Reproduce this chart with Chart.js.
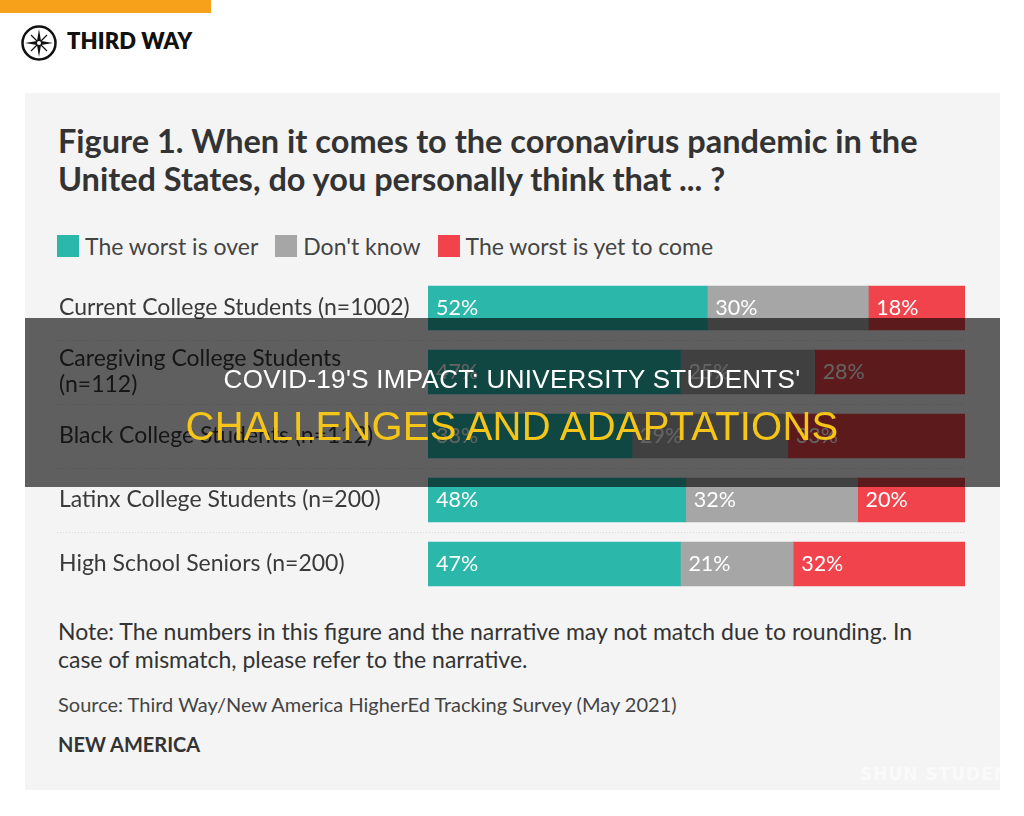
<!DOCTYPE html>
<html>
<head>
<meta charset="utf-8">
<script src="https://cdn.jsdelivr.net/npm/chart.js@4"></script>
<style>
  body { margin: 0; width: 1024px; height: 816px; background: #fff; position: relative; overflow: hidden; font-family: Lato, "Open Sans", sans-serif; }
  #topbar { position: absolute; left: 0; top: 0; width: 211px; height: 13px; background: #f7a11a; }
  #logo { position: absolute; left: 20px; top: 24px; }
  #brand { position: absolute; left: 67px; top: 27px; font: 800 22px Lato, sans-serif; color: #111; letter-spacing: 0.1px; }
  #panel { position: absolute; left: 25px; top: 93px; width: 975px; height: 697px; background: #f4f4f4; }
  #title { position: absolute; left: 58px; top: 122px; font: 700 32.5px Lato, sans-serif; color: #333; line-height: 38px; }
  #legend { position: absolute; left: 57px; top: 232px; display: flex; font: 23px Lato, sans-serif; color: #444; }
  #legend span.item { display: flex; align-items: center; margin-right: 17px; }
  #legend span.box { width: 22px; height: 22px; margin-right: 6px; display: inline-block; }
  #wrap { position: absolute; left: 40px; top: 260px; width: 940px; height: 352px; }
  #note { position: absolute; left: 58px; top: 617px; font: 23px Lato, sans-serif; color: #333; line-height: 28px; }
  #source { position: absolute; left: 58px; top: 692px; font: 20px Lato, sans-serif; color: #444; }
  #org { position: absolute; left: 58px; top: 732px; font: 700 20px Lato, sans-serif; color: #333; }
  #shade { position: absolute; left: 25px; top: 318px; width: 975px; height: 169px; background: rgba(0,0,0,0.61); }
  #head1 { position: absolute; left: 0; width: 1024px; top: 364px; text-align: center; font: 26px "Liberation Sans", Arial, sans-serif; color: #fff; letter-spacing: 0.3px; }
  #head2 { position: absolute; left: 0; width: 1024px; top: 404px; text-align: center; font: 40px "Liberation Sans", Arial, sans-serif; color: #f5c518; letter-spacing: 0.2px; }
  #mark { position: absolute; left: 860px; top: 764px; font: 700 17px "DejaVu Sans", sans-serif; color: rgba(255,255,255,0.6); letter-spacing: 1px; }
</style>
</head>
<body>
<div id="topbar"></div>
<svg id="logo" width="38" height="38" viewBox="0 0 38 38">
  <circle cx="19" cy="19" r="16.5" fill="none" stroke="#111" stroke-width="2.5"/>
  <path d="M19 5 L21 17 L33 19 L21 21 L19 33 L17 21 L5 19 L17 17 Z" fill="#111"/>
  <path d="M19 19 L27 11 M19 19 L11 11 M19 19 L27 27 M19 19 L11 27" stroke="#111" stroke-width="1.2"/>
  <circle cx="19" cy="19" r="2" fill="#fff"/>
</svg>
<div id="brand">THIRD WAY</div>
<div id="panel"></div>
<div id="title">Figure 1. When it comes to the coronavirus pandemic in the<br>United States, do you personally think that ... ?</div>
<div id="legend"></div>
<div id="wrap"><canvas id="chart"></canvas></div>
<div id="note">Note: The numbers in this figure and the narrative may not match due to rounding. In<br>case of mismatch, please refer to the narrative.</div>
<div id="source">Source: Third Way/New America HigherEd Tracking Survey (May 2021)</div>
<div id="org">NEW AMERICA</div>
<div id="mark">SHUN STUDENT</div>
<div id="shade"></div>
<div id="head1">COVID-19'S IMPACT: UNIVERSITY STUDENTS'</div>
<div id="head2">CHALLENGES AND ADAPTATIONS</div>
<script>
// Data
const groups = [
    "Current College Students (n=1002)",
    ["Caregiving College Students", "(n=112)"],
    "Black College Students (n=112)",
    "Latinx College Students (n=200)",
    "High School Seniors (n=200)"
];
const seriesNames = ["The worst is over", "Don't know", "The worst is yet to come"];
const worstOver = [52, 47, 38, 48, 47];
const dontKnow = [30, 25, 29, 32, 21];
const yetToCome = [18, 28, 33, 20, 32];
const colors = ["#2bb8aa", "#a6a6a6", "#f0434b"];

// HTML legend
const legend = document.getElementById('legend');
seriesNames.forEach((name, i) => {
    legend.innerHTML += '<span class="item"><span class="box" style="background:' + colors[i] + '"></span>' + name + '</span>';
});

// percent labels inside the bars
const pctLabels = {
    id: 'pctLabels',
    afterDatasetsDraw(chart) {
        const ctx = chart.ctx;
        ctx.save();
        ctx.font = '21.5px Lato, sans-serif';
        ctx.fillStyle = '#fff';
        ctx.textBaseline = 'middle';
        chart.data.datasets.forEach((ds, di) => {
            chart.getDatasetMeta(di).data.forEach((bar, i) => {
                const left = Math.min(bar.x, bar.base);
                ctx.fillText(ds.data[i] + '%', left + 8, bar.y);
            });
        });
        ctx.restore();
    }
};

// dotted separators between rows
const separators = {
    id: 'separators',
    beforeDatasetsDraw(chart) {
        const ctx = chart.ctx;
        const y = chart.scales.y;
        ctx.save();
        ctx.strokeStyle = '#d9d9d9';
        ctx.lineWidth = 1;
        ctx.setLineDash([1, 2]);
        for (let i = 0; i < groups.length - 1; i++) {
            const yy = Math.round((y.getPixelForValue(i) + y.getPixelForValue(i + 1)) / 2) + 0.5;
            ctx.beginPath();
            ctx.moveTo(y.left - 2, yy);
            ctx.lineTo(chart.chartArea.right, yy);
            ctx.stroke();
        }
        ctx.restore();
    }
};

new Chart(document.getElementById('chart'), {
    type: 'bar',
    data: {
        labels: groups,
        datasets: [
            { label: seriesNames[0], data: worstOver, backgroundColor: colors[0] },
            { label: seriesNames[1], data: dontKnow, backgroundColor: colors[1] },
            { label: seriesNames[2], data: yetToCome, backgroundColor: colors[2] }
        ]
    },
    options: {
        indexAxis: 'y',
        responsive: true,
        maintainAspectRatio: false,
        animation: false,
        barThickness: 44,
        layout: { padding: { top: 10, bottom: 10, left: 19, right: 15 } },
        plugins: { legend: { display: false }, tooltip: { enabled: false } },
        scales: {
            x: { stacked: true, min: 0, max: 100, display: false },
            y: {
                stacked: true,
                border: { display: false },
                grid: { display: false },
                afterFit(scale) { scale.width = 369; },
                ticks: {
                    crossAlign: 'far',
                    color: '#3a3a3a',
                    font: { family: 'Lato, sans-serif', size: 23, lineHeight: 1.13 }
                }
            }
        }
    },
    plugins: [separators, pctLabels]
});
</script>
</body>
</html>
